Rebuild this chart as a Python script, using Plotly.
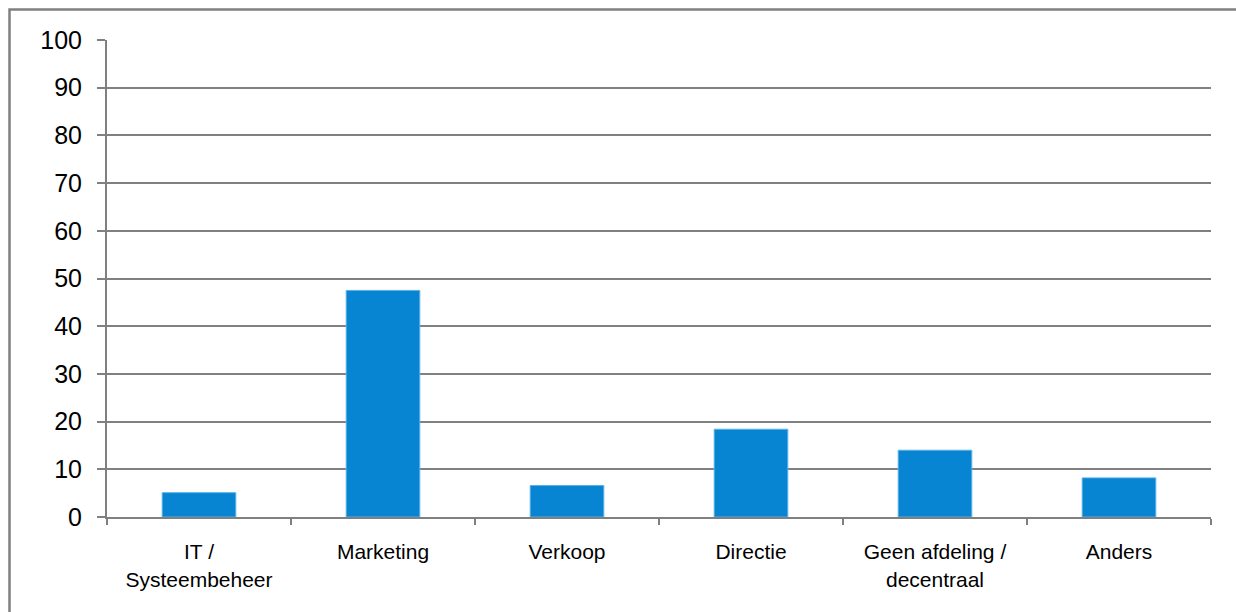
import plotly.graph_objects as go

# Afdeling verantwoordelijk (percentage respondenten)
categories = ["IT /<br>Systeembeheer", "Marketing", "Verkoop", "Directie",
              "Geen afdeling /<br>decentraal", "Anders"]
values = [5.1, 47.5, 6.6, 18.4, 14.0, 8.2]
y_ticks = [0, 10, 20, 30, 40, 50, 60, 70, 80, 90, 100]

W, H = 1236, 612
L, R, T, B = 107, 25, 40, 95

grey = "#808080"
fnt = "Liberation Sans, Arial, sans-serif"

fig = go.Figure(go.Bar(
    x=categories, y=values,
    marker=dict(color="#0784D2", line=dict(color="#5DB0E6", width=1)),
    width=0.4,
))

fig.update_layout(
    width=W, height=H,
    margin=dict(l=L, r=R, t=T, b=B, pad=0),
    paper_bgcolor="white", plot_bgcolor="white",
    showlegend=False,
    font=dict(family=fnt, color="black"),
)

fig.update_xaxes(
    type="category",
    showgrid=False,
    showline=True, linecolor=grey, linewidth=2,
    ticks="outside", tickson="boundaries", ticklen=6, tickwidth=2, tickcolor=grey,
    tickfont=dict(size=21, family=fnt, color="black"),
    ticklabelstandoff=15,
)

fig.update_yaxes(
    range=[0, 100],
    tickvals=y_ticks,
    showgrid=True, gridcolor=grey, gridwidth=2,
    showline=True, linecolor=grey, linewidth=2,
    ticks="outside", ticklen=8, tickwidth=2, tickcolor=grey,
    tickfont=dict(size=25, family=fnt, color="black"),
    ticklabelstandoff=10,
    zeroline=False,
)

# outer chart frame (extends past the right and bottom page edges)
pw, ph = W - L - R, H - T - B
x0 = (9.5 - L) / pw
y1 = 1 + (T - 9.5) / ph
fig.add_shape(type="rect", xref="paper", yref="paper",
              x0=x0, x1=(W + 20 - L) / pw, y0=-(B + 20) / ph, y1=y1,
              line=dict(color=grey, width=2.5), fillcolor="rgba(0,0,0,0)",
              layer="below")

fig.write_html("out.html")
